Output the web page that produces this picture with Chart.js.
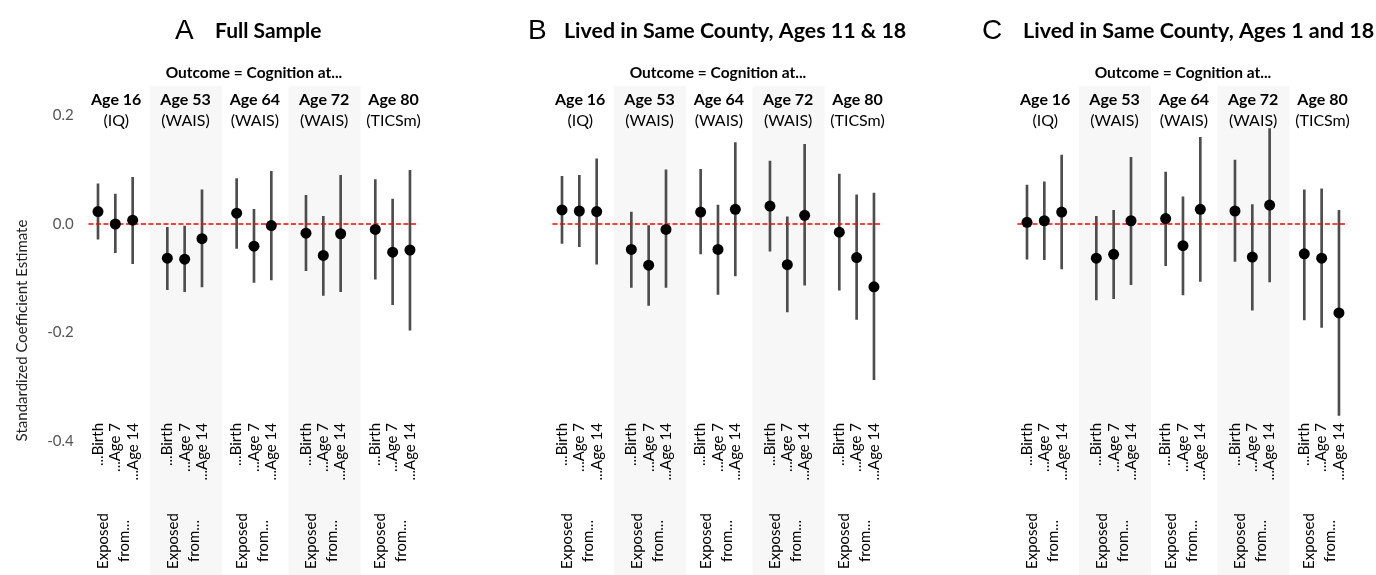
<!DOCTYPE html>
<html>
<head>
<meta charset="utf-8">
<script src="https://cdn.jsdelivr.net/npm/chart.js@4/dist/chart.umd.min.js"></script>
<style>
  body { margin: 0; background: #fff; }
  #wrap { position: relative; width: 1376px; height: 575px; overflow: hidden; }
  #wrap canvas { position: absolute; top: 0; }
</style>
</head>
<body>
<div id="wrap">
  <canvas id="chartA" width="460" height="575" style="left:0px"></canvas>
  <canvas id="chartB" width="460" height="575" style="left:460px"></canvas>
  <canvas id="chartC" width="456" height="575" style="left:920px"></canvas>
</div>
<script>
// outcome groups (facet strips) and exposure timing
const outcomeAges = ["Age 16", "Age 53", "Age 64", "Age 72", "Age 80"];
const outcomeTests = ["(IQ)", "(WAIS)", "(WAIS)", "(WAIS)", "(TICSm)"];
const exposureLabels = ["...Birth", "...Age 7", "...Age 14"];
const yTicks = [0.2, 0.0, -0.2, -0.4];

// A  Full Sample
const estA  = [0.023, 0.000, 0.007, -0.063, -0.065, -0.027, 0.020, -0.041, -0.003, -0.017, -0.058, -0.018, -0.010, -0.052, -0.048];
const lowA  = [-0.028, -0.053, -0.073, -0.121, -0.125, -0.116, -0.045, -0.108, -0.103, -0.086, -0.132, -0.125, -0.102, -0.149, -0.196];
const highA = [0.074, 0.055, 0.086, -0.006, -0.004, 0.063, 0.084, 0.027, 0.097, 0.053, 0.014, 0.090, 0.082, 0.046, 0.099];

// B  Lived in Same County, Ages 11 & 18
const estB  = [0.026, 0.024, 0.023, -0.047, -0.076, -0.010, 0.022, -0.047, 0.027, 0.033, -0.075, 0.016, -0.015, -0.062, -0.116];
const lowB  = [-0.036, -0.042, -0.074, -0.117, -0.150, -0.117, -0.055, -0.130, -0.096, -0.050, -0.162, -0.113, -0.122, -0.176, -0.287];
const highB = [0.088, 0.090, 0.120, 0.022, -0.003, 0.100, 0.101, 0.035, 0.150, 0.116, 0.013, 0.147, 0.092, 0.054, 0.057];

// C  Lived in Same County, Ages 1 and 18
const estC  = [0.003, 0.006, 0.022, -0.063, -0.056, 0.006, 0.010, -0.040, 0.027, 0.024, -0.061, 0.035, -0.055, -0.063, -0.164];
const lowC  = [-0.065, -0.066, -0.083, -0.140, -0.138, -0.112, -0.077, -0.131, -0.106, -0.069, -0.159, -0.107, -0.177, -0.191, -0.353];
const highC = [0.072, 0.078, 0.127, 0.014, 0.025, 0.123, 0.096, 0.050, 0.160, 0.118, 0.036, 0.176, 0.063, 0.065, 0.025];

const Y_MIN = -0.6476, Y_MAX = 0.2546;
const FONT = 'Lato, "Open Sans", sans-serif';

// slot on the x axis: 4 units per outcome group, points at 1,2,3 inside it
function xPos(i) { return Math.floor(i / 3) * 4 + (i % 3) + 1; }

const decor = {
  id: 'decor',
  beforeDatasetsDraw(chart, args, o) {
    const ctx = chart.ctx, xs = chart.scales.x, top = chart.chartArea.top;
    ctx.save();
    ctx.fillStyle = '#f7f7f7';
    [1, 3].forEach(g => {
      const x0 = xs.getPixelForValue(g * 4), x1 = xs.getPixelForValue(g * 4 + 4.15);
      ctx.fillRect(x0, top, x1 - x0, chart.height - top);
    });
    ctx.restore();
  },
  afterDraw(chart, args, o) {
    const ctx = chart.ctx, xs = chart.scales.x;
    const mid = (xs.left + xs.right) / 2;
    ctx.save();
    ctx.fillStyle = '#000';
    // panel title
    ctx.textBaseline = 'middle';
    ctx.textAlign = 'left';
    ctx.font = '28px "Liberation Sans", sans-serif';
    ctx.fillText(o.letter, o.letterX, 31);
    ctx.font = 'bold ' + o.titleSize + 'px ' + FONT;
    ctx.fillText(o.title, o.textX, 31);
    // facet heading
    ctx.textAlign = 'center';
    ctx.font = 'bold 15.5px ' + FONT;
    ctx.fillText('Outcome = Cognition at...', mid, 73);
    outcomeAges.forEach((a, g) => {
      const cx = xs.getPixelForValue(g * 4 + 2.05);
      ctx.font = 'bold 16px ' + FONT;
      ctx.fillText(a, cx, 100);
      ctx.font = '16px ' + FONT;
      ctx.fillText(outcomeTests[g], cx, 121);
    });
    // rotated exposure labels
    ctx.font = '15px ' + FONT;
    for (let i = 0; i < 15; i++) {
      const px = xs.getPixelForValue(xPos(i));
      ctx.save();
      ctx.translate(px, 423);
      ctx.rotate(-Math.PI / 2);
      ctx.textAlign = 'right';
      ctx.fillText(exposureLabels[i % 3], 0, 0);
      ctx.restore();
    }
    outcomeAges.forEach((a, g) => {
      const cx = xs.getPixelForValue(g * 4 + 2);
      [['Exposed', -12], ['from...', 9]].forEach(([t, dx]) => {
        ctx.save();
        ctx.translate(cx + dx, 541);
        ctx.rotate(-Math.PI / 2);
        ctx.textAlign = 'center';
        ctx.fillText(t, 0, 0);
        ctx.restore();
      });
    });
    ctx.restore();
  }
};

function makePanel(id, est, low, high, p) {
  const bars = est.map((v, i) => ({ x: xPos(i), y: [low[i], high[i]] }));
  const pts = est.map((v, i) => ({ x: xPos(i), y: v }));
  new Chart(document.getElementById(id), {
    type: 'scatter',
    data: {
      datasets: [
        { type: 'bar', data: bars, backgroundColor: '#4d4d4d', barThickness: 2, borderWidth: 0, order: 3 },
        { type: 'line', data: [{ x: 0.45, y: 0 }, { x: 19.5, y: 0 }], borderColor: '#ff0000', borderWidth: 1.5,
          borderDash: [5, 2.5], pointRadius: 0, fill: false, order: 2 },
        { data: pts, backgroundColor: '#000', pointRadius: 5.5, pointHoverRadius: 5.5, borderWidth: 0, order: 1 }
      ]
    },
    options: {
      responsive: false,
      animation: false,
      layout: { autoPadding: false, padding: { left: p.padLeft, right: p.padRight, top: 86, bottom: 0 } },
      plugins: { legend: { display: false }, tooltip: { enabled: false }, decor: p },
      scales: {
        x: { type: 'linear', min: 0, max: 20, offset: false, display: false },
        y: {
          min: Y_MIN, max: Y_MAX,
          display: p.showY,
          afterBuildTicks: s => { s.ticks = yTicks.map(v => ({ value: v })); },
          afterFit: s => {
            if (p.showY) s.width = 80.67;
            s.paddingTop = 0; s.paddingBottom = 0;
          },
          ticks: { callback: v => v.toFixed(1), font: { family: FONT, size: 15 }, color: '#555', padding: 7 },
          grid: { display: false, drawTicks: false },
          border: { display: false },
          title: { display: true, text: 'Standardized Coefficient Estimate', font: { family: FONT, size: 15 },
                   color: '#222', padding: { top: 13, bottom: 0 } }
        }
      }
    },
    plugins: [decor]
  });
}

makePanel('chartA', estA, lowA, highA, { showY: true, padLeft: 0, padRight: 32.7, letter: 'A', title: 'Full Sample', titleSize: 21, letterX: 175, textX: 215 });
makePanel('chartB', estB, lowB, highB, { showY: false, padLeft: 84.67, padRight: 28.7, letter: 'B', title: 'Lived in Same County, Ages 11 & 18', titleSize: 21.4, letterX: 68, textX: 104 });
makePanel('chartC', estC, lowC, highC, { showY: false, padLeft: 89.67, padRight: 19.7, letter: 'C', title: 'Lived in Same County, Ages 1 and 18', titleSize: 21.5, letterX: 62, textX: 103 });
</script>
</body>
</html>
